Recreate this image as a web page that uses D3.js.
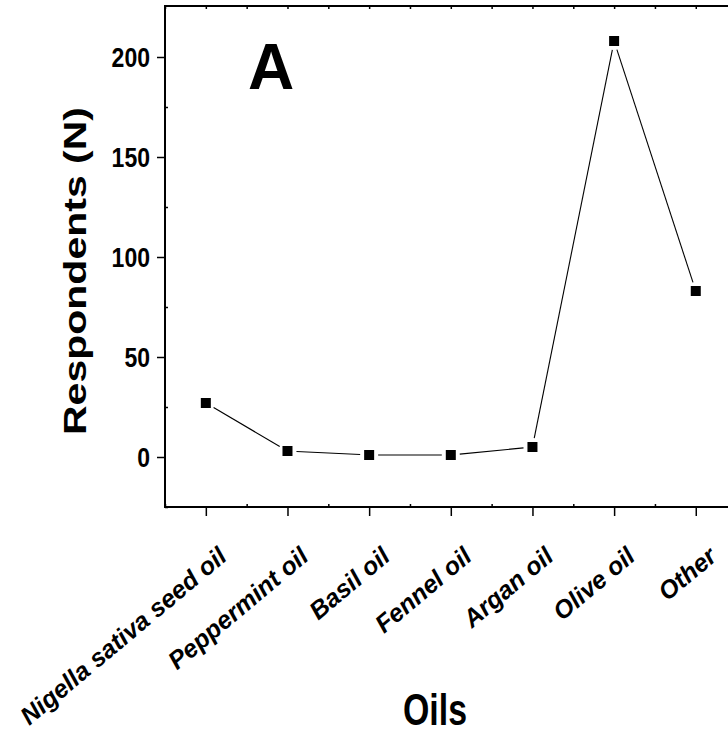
<!DOCTYPE html>
<html><head><meta charset="utf-8">
<script src="https://cdn.jsdelivr.net/npm/d3@7"></script>
<style>
html,body{margin:0;padding:0;background:#fff;}
svg{display:block;}
</style></head>
<body>
<svg id="chart" width="728" height="733"></svg>
<script>
const categories = ["Nigella sativa seed oil","Peppermint oil","Basil oil","Fennel oil","Argan oil","Olive oil","Other"];
const values = [27, 3, 1, 1, 5, 208, 83];
const yTicks = [0, 50, 100, 150, 200];
const yMinorTicks = [-25, 25, 75, 125, 175];
const panelLabel = "A";
const xTitle = "Oils";
const yTitle = "Respondents (N)";

(function () {
const svg = d3.select("#chart");
const pLeft = 165, pTop = 6, pBottom = 507, pRight = 736.6;
const x = d3.scaleLinear().domain([-0.5, 6.5]).range([pLeft, pRight]);
const y = d3.scaleLinear().domain([-25, 225]).range([pBottom, pTop + 1]);
const font = "'Liberation Sans', Arial, sans-serif";

// frame
const frame = svg.append("g").attr("stroke", "#000").attr("stroke-width", 2).attr("fill", "none");
frame.append("line").attr("x1", pLeft).attr("x2", 740).attr("y1", pTop).attr("y2", pTop);
frame.append("line").attr("x1", pLeft).attr("x2", 740).attr("y1", pBottom).attr("y2", pBottom);
frame.append("line").attr("x1", pLeft).attr("x2", pLeft).attr("y1", pTop - 1).attr("y2", pBottom + 1);
frame.append("line").attr("x1", pRight).attr("x2", pRight).attr("y1", pTop - 1).attr("y2", pBottom + 1);

function styleAxis(g) {
  g.select(".domain").remove();
  g.selectAll(".tick line").attr("stroke", "#000").attr("stroke-width", 1.5);
}

// left axis major
const yAxis = svg.append("g").attr("transform", `translate(${pLeft},0)`)
  .call(d3.axisLeft(y).tickValues(yTicks).tickSize(8).tickPadding(7).tickFormat(d3.format("d")));
styleAxis(yAxis);
yAxis.selectAll(".tick text")
  .attr("font-family", font).attr("font-weight", "bold").attr("font-size", 27)
  .attr("fill", "#000").attr("dy", "0.36em")
  .attr("textLength", d => String(d).length * 12.8).attr("lengthAdjust", "spacingAndGlyphs");
// left minor (inside)
const yMinor = svg.append("g").attr("transform", `translate(${pLeft},0)`)
  .call(d3.axisRight(y).tickValues(yMinorTicks).tickSize(3).tickFormat(""));
styleAxis(yMinor);

// bottom axis major
const xAxis = svg.append("g").attr("transform", `translate(0,${pBottom})`)
  .call(d3.axisBottom(x).tickValues(d3.range(categories.length)).tickSize(9).tickFormat(i => categories[i]));
styleAxis(xAxis);
xAxis.selectAll(".tick text")
  .attr("font-family", font).attr("font-weight", "bold").attr("font-style", "italic")
  .attr("font-size", 25).attr("fill", "#000")
  .attr("text-anchor", "end").attr("dy", 0).attr("y", 0)
  .attr("transform", "translate(22,52) rotate(-40)");
// bottom minor (inside)
const halfSteps = d3.range(-0.5, 6.6, 0.5);
const xMinor = svg.append("g").attr("transform", `translate(0,${pBottom})`)
  .call(d3.axisTop(x).tickValues(halfSteps.filter(v => v % 1 !== 0)).tickSize(3).tickFormat(""));
styleAxis(xMinor);
// top ticks (inside)
const xTop = svg.append("g").attr("transform", `translate(0,${pTop})`)
  .call(d3.axisBottom(x).tickValues(halfSteps).tickSize(3).tickFormat(""));
styleAxis(xTop);

// data line segments with gaps near markers
const pts = values.map((v, i) => [x(i), y(v)]);
const gap = 9;
const segs = svg.append("g").attr("stroke", "#000").attr("stroke-width", 1.1);
for (let i = 0; i < pts.length - 1; i++) {
  const [x1, y1] = pts[i], [x2, y2] = pts[i + 1];
  const dx = x2 - x1, dy = y2 - y1, L = Math.hypot(dx, dy);
  const ux = dx / L, uy = dy / L;
  segs.append("line")
    .attr("x1", x1 + ux * gap).attr("y1", y1 + uy * gap)
    .attr("x2", x2 - ux * gap).attr("y2", y2 - uy * gap);
}
// markers
svg.append("g").selectAll("rect").data(values).join("rect")
  .attr("x", (d, i) => x(i) - 5).attr("y", d => y(d) - 5)
  .attr("width", 10).attr("height", 10).attr("fill", "#000");

// panel label
svg.append("text").attr("x", 271).attr("y", 89).attr("text-anchor", "middle")
  .attr("font-family", font).attr("font-weight", "bold").attr("font-size", 64)
  .attr("fill", "#000").text(panelLabel);

// axis titles
svg.append("text").attr("x", 435).attr("y", 725).attr("text-anchor", "middle")
  .attr("font-family", font).attr("font-weight", "bold").attr("font-size", 44)
  .attr("textLength", 64).attr("lengthAdjust", "spacingAndGlyphs")
  .attr("fill", "#000").text(xTitle);
svg.append("text").attr("transform", "translate(86,271) rotate(-90)").attr("text-anchor", "middle")
  .attr("font-family", font).attr("font-weight", "bold").attr("font-size", 31)
  .attr("textLength", 328).attr("lengthAdjust", "spacingAndGlyphs")
  .attr("fill", "#000").text(yTitle);
})();
</script>
</body></html>
